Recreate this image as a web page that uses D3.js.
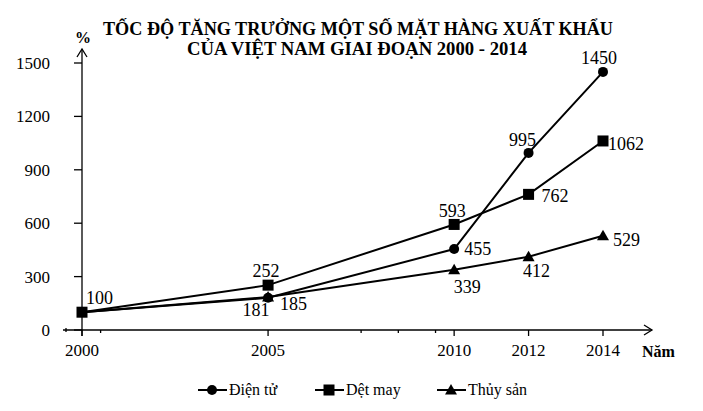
<!DOCTYPE html>
<html>
<head>
<meta charset="utf-8">
<script src="https://cdn.jsdelivr.net/npm/d3@7"></script>
<style>
  body { margin: 0; background: #fff; }
  svg { display: block; }
  text { font-family: "Liberation Serif", "Times New Roman", serif; fill: #000; }
</style>
</head>
<body>
<svg id="chart" width="703" height="411"></svg>
<script>
// data
var years = [2000, 2005, 2010, 2012, 2014];
var dienTu = [100, 181, 455, 995, 1450];
var detMay = [100, 252, 593, 762, 1062];
var thuySan = [100, 185, 339, 412, 529];
var yTicks = [0, 300, 600, 900, 1200, 1500];
var minorYears = [2000.5, 2007.5, 2008.5, 2009.5];
var seriesNames = ["Điện tử", "Dệt may", "Thủy sản"];
var titleLines = ["TỐC ĐỘ TĂNG TRƯỞNG MỘT SỐ MẶT HÀNG XUẤT  KHẨU", "CỦA VIỆT NAM GIAI ĐOẠN 2000 - 2014"];

var svg = d3.select("#chart");

var x = d3.scaleLinear().domain([2000, 2014]).range([82, 603]);
var y = d3.scaleLinear().domain([0, 1500]).range([330, 63]);

// title
svg.append("text").attr("x", 103).attr("y", 35)
	.attr("textLength", 510).attr("lengthAdjust", "spacingAndGlyphs")
	.style("font-size", "18px").style("font-weight", "bold")
	.text(titleLines[0]);
svg.append("text").attr("x", 187).attr("y", 55)
	.attr("textLength", 340).attr("lengthAdjust", "spacingAndGlyphs")
	.style("font-size", "18px").style("font-weight", "bold")
	.text(titleLines[1]);

// axes
var ax = svg.append("g").attr("stroke", "#000").attr("stroke-width", 1.3).attr("fill", "none");
ax.append("line").attr("x1", 63).attr("x2", 652).attr("y1", y(0)).attr("y2", y(0));
ax.append("path").attr("d", "M644,325 L652,330 L644,335");
ax.append("line").attr("x1", x(2000)).attr("x2", x(2000)).attr("y1", 336).attr("y2", 49);
ax.append("path").attr("d", "M77,57 L82,49 L87,57");

ax.selectAll(".yt").data(yTicks).enter().append("line")
	.attr("x1", 74).attr("x2", 82)
	.attr("y1", function(d) { return y(d); }).attr("y2", function(d) { return y(d); });

ax.selectAll(".xt").data(years).enter().append("line")
	.attr("x1", function(d) { return x(d); }).attr("x2", function(d) { return x(d); })
	.attr("y1", 330).attr("y2", 336);
ax.selectAll(".xm").data(minorYears).enter().append("line")
	.attr("x1", function(d) { return x(d); }).attr("x2", function(d) { return x(d); })
	.attr("y1", 330).attr("y2", 333);
ax.append("line").attr("x1", 66).attr("x2", 66).attr("y1", 328).attr("y2", 332);

svg.selectAll(".ytl").data(yTicks).enter().append("text")
	.attr("x", 50).attr("y", function(d) { return y(d); }).attr("dy", "0.35em")
	.attr("text-anchor", "end").style("font-size", "17px")
	.text(function(d) { return d; });

svg.selectAll(".xtl").data(years).enter().append("text")
	.attr("x", function(d) { return x(d); }).attr("y", 356)
	.attr("text-anchor", "middle").style("font-size", "17px")
	.text(function(d) { return d; });

svg.append("text").attr("x", 642).attr("y", 357).style("font-size", "16px").style("font-weight", "bold").text("Năm");
svg.append("text").attr("x", 83).attr("y", 43).attr("text-anchor", "middle").style("font-size", "16px").style("font-weight", "bold").text("%");

// lines
var line = d3.line().x(function(d, i) { return x(years[i]); }).y(function(d) { return y(d); });
[thuySan, detMay, dienTu].forEach(function(s) {
	svg.append("path").datum(s).attr("d", line)
		.attr("fill", "none").attr("stroke", "#000").attr("stroke-width", 2);
});

function marker(g, type, cx, cy) {
	if (type == 0) g.append("circle").attr("cx", cx).attr("cy", cy).attr("r", 5);
	else if (type == 1) g.append("rect").attr("x", cx - 5.5).attr("y", cy - 5.5).attr("width", 11).attr("height", 11);
	else g.append("path").attr("d", "M" + cx + "," + (cy - 6) + " L" + (cx + 6) + "," + (cy + 4.5) + " L" + (cx - 6) + "," + (cy + 4.5) + " Z");
}

var mk = svg.append("g").attr("fill", "#000");
thuySan.forEach(function(v, i) { if (i > 0) marker(mk, 2, x(years[i]), y(v)); });
detMay.forEach(function(v, i) { marker(mk, 1, x(years[i]), y(v)); });
dienTu.forEach(function(v, i) { if (i > 0) marker(mk, 0, x(years[i]), y(v)); });

// value labels: [dx, dy, anchor] per point
var dienTuPos = [null, [-12, 18, "middle"], [10, 6, "start"], [-6, -7, "middle"], [-4, -8, "middle"]];
var detMayPos = [[4, -8, "start"], [-2, -8, "middle"], [-2, -7, "middle"], [13, 8, "start"], [5, 9, "start"]];
var thuySanPos = [null, [12, 13, "start"], [13, 23, "middle"], [8, 20, "middle"], [10, 10, "start"]];

function labels(vals, pos) {
	vals.forEach(function(v, i) {
		if (!pos[i]) return;
		svg.append("text").attr("x", x(years[i]) + pos[i][0]).attr("y", y(v) + pos[i][1])
			.attr("text-anchor", pos[i][2]).style("font-size", "18px").text(v);
	});
}
labels(dienTu, dienTuPos);
labels(detMay, detMayPos);
labels(thuySan, thuySanPos);

// legend
var legX = [198, 315, 437];
var lg = svg.append("g");
seriesNames.forEach(function(n, i) {
	lg.append("line").attr("x1", legX[i]).attr("x2", legX[i] + 29).attr("y1", 390).attr("y2", 390)
		.attr("stroke", "#000").attr("stroke-width", 2);
	var g = lg.append("g").attr("fill", "#000");
	marker(g, i, legX[i] + 14, 390);
	lg.append("text").attr("x", legX[i] + 31).attr("y", 395).style("font-size", "16px").text(n);
});
</script>
</body>
</html>
